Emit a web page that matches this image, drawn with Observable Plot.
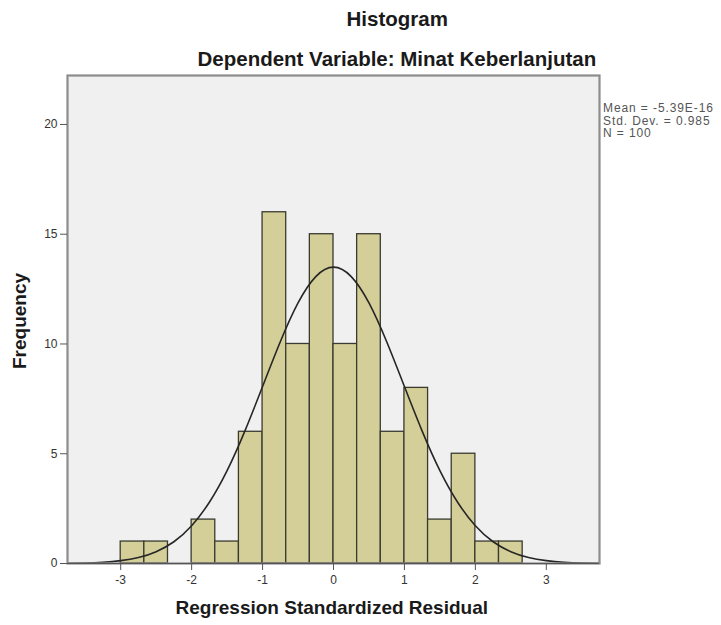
<!DOCTYPE html>
<html>
<head>
<meta charset="utf-8">
<script src="https://cdn.jsdelivr.net/npm/d3@7"></script>
<script src="https://cdn.jsdelivr.net/npm/@observablehq/plot@0.6"></script>
<style>
  html, body { margin: 0; padding: 0; background: #ffffff; }
  #wrap { position: relative; width: 721px; height: 625px; overflow: hidden; font-family: "Liberation Sans", Arial, sans-serif; }
  #wrap svg { position: absolute; left: 0; top: 0; }
  .t { position: absolute; white-space: nowrap; color: #1a1a1a; font-weight: bold; }
  .leg { position: absolute; left: 603px; font-size: 12px; line-height: 12.5px; color: #555; letter-spacing: 0.9px; white-space: nowrap; }
</style>
</head>
<body>
<div id="wrap"></div>
<script>
// Histogram bins (left edge of each bin, width 1/3) and counts
const binStarts = [-3, -8/3, -7/3, -2, -5/3, -4/3, -1, -2/3, -1/3, 0, 1/3, 2/3, 1, 4/3, 5/3, 2, 7/3];
const binWidth = 1/3;
const counts    = [1, 1, 0, 2, 1, 6, 16, 10, 15, 10, 15, 6, 8, 2, 5, 1, 1];

// Normal curve
const curveX = [-3.75,-3.5,-3.25,-3,-2.75,-2.5,-2.25,-2,-1.75,-1.5,-1.25,-1,-0.75,-0.5,-0.25,0,0.25,0.5,0.75,1,1.25,1.5,1.75,2,2.25,2.5,2.75,3,3.25,3.5,3.75];
const curveY = [0.01,0.024,0.058,0.13,0.27,0.54,0.99,1.72,2.79,4.23,6.03,8.06,10.1,11.87,13.07,13.5,13.07,11.87,10.1,8.06,6.03,4.23,2.79,1.72,0.99,0.54,0.27,0.13,0.058,0.024,0.01];

const xTicks = [-3, -2, -1, 0, 1, 2, 3];
const yTicks = [0, 5, 10, 15, 20];

const titleText = "Histogram";
const subtitleText = "Dependent Variable: Minat Keberlanjutan";
const xLabel = "Regression Standardized Residual";
const yLabel = "Frequency";
const legendLines = ["Mean = -5.39E-16", "Std. Dev. = 0.985", "N = 100"];

const bins = binStarts.map((s, i) => ({x1: s, x2: s + binWidth, count: counts[i]})).filter(d => d.count > 0);
const curve = curveX.map((x, i) => ({x, y: curveY[i]}));

const chart = Plot.plot({
  width: 721,
  height: 625,
  marginLeft: 67,
  marginTop: 75,
  marginRight: 122,
  marginBottom: 62,
  style: {fontFamily: '"Liberation Sans", Arial, sans-serif', background: "transparent"},
  x: {domain: [-3.75, 3.75]},
  y: {domain: [0, 22.23]},
  marks: [
    Plot.frame({fill: "#f0f0f0", stroke: null}),
    Plot.rect(bins, {x1: "x1", x2: "x2", y1: 0, y2: "count", fill: "#d4cf98", stroke: "#3a3a30", strokeWidth: 1.3}),
    Plot.line(curve, {x: "x", y: "y", curve: "natural", stroke: "#262626", strokeWidth: 1.6}),
    Plot.frame({stroke: "#8c8c8c", strokeWidth: 2.2}),
    Plot.ruleY([0], {stroke: "#555", strokeWidth: 1.2}),
    Plot.axisX(xTicks, {tickSize: 7, tickPadding: 5, fontSize: 12, stroke: "#555", fill: "#333", tickFormat: d => String(d), label: null}),
    Plot.axisY(yTicks, {tickSize: 7, tickPadding: 3, fontSize: 12, stroke: "#555", fill: "#333", tickFormat: d => String(d), label: null})
  ]
});

const wrap = document.getElementById("wrap");
wrap.appendChild(chart);

function addText(txt, css, cls) {
  const d = document.createElement("div");
  d.className = cls || "t";
  d.textContent = txt;
  Object.assign(d.style, css);
  wrap.appendChild(d);
  return d;
}

// Titles centred at x≈397
const t1 = addText(titleText, {fontSize: "20.5px", top: "7px", left: "0px"});
t1.style.left = (397 - t1.offsetWidth / 2) + "px";
const t2 = addText(subtitleText, {fontSize: "20.5px", top: "47px", left: "0px"});
t2.style.left = (397 - t2.offsetWidth / 2) + "px";

// X axis label centred under plot
const xl = addText(xLabel, {fontSize: "19px", top: "597px", left: "0px"});
xl.style.left = (332 - xl.offsetWidth / 2) + "px";

// Y axis label rotated
const yl = addText(yLabel, {fontSize: "19px", top: "0px", left: "0px"});
const w = yl.offsetWidth, h = yl.offsetHeight;
yl.style.left = (20 - w / 2) + "px";
yl.style.top = (321 - h / 2) + "px";
yl.style.transform = "rotate(-90deg)";

// Stats legend
legendLines.forEach((s, i) => {
  addText(s, {top: (102 + i * 12.5) + "px"}, "leg");
});
</script>
</body>
</html>
